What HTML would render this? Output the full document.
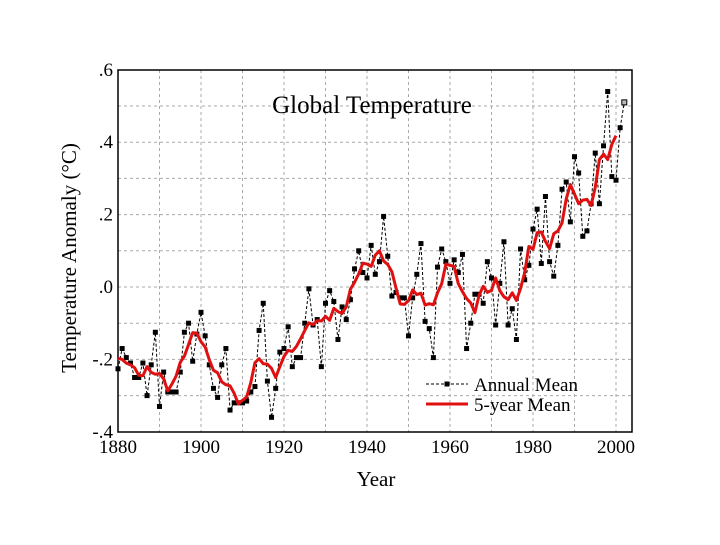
<!DOCTYPE html>
<html><head><meta charset="utf-8"><style>
body{margin:0;background:#fff;}
svg text{font-family:"Liberation Serif",serif;}
</style></head><body>
<svg id="chart" width="720" height="540" viewBox="0 0 720 540">
<rect x="0" y="0" width="720" height="540" fill="#fff"/>
<g id="grid"></g>
<rect x="118" y="70" width="514" height="362" fill="none" stroke="#000" stroke-width="1.5"/>
<text x="372" y="113" font-size="25" text-anchor="middle">Global Temperature</text>
<text transform="translate(76,258) rotate(-90)" font-size="21" text-anchor="middle">Temperature Anomaly (°C)</text>
<text x="376" y="486" font-size="21" text-anchor="middle">Year</text>
<g id="yticks"></g>
<g id="xticks"></g>
<g id="series"></g>
<g>
<line x1="426" y1="384" x2="468" y2="384" stroke="#000" stroke-width="1" stroke-dasharray="3,2"/>
<rect x="444.5" y="381.5" width="5" height="5" fill="#000"/>
<text x="474" y="391" font-size="19">Annual Mean</text>
<line x1="426" y1="404" x2="468" y2="404" stroke="#e01010" stroke-width="3"/>
<text x="474" y="411" font-size="19">5-year Mean</text>
</g>
</svg>
<script>
const years = [];
for (let y = 1880; y <= 2002; y++) years.push(y);
const annualMean = [
-.226,-.17,-.195,-.21,-.25,-.25,-.21,-.30,-.215,-.125,
-.33,-.235,-.29,-.29,-.29,-.235,-.125,-.10,-.205,-.13,
-.07,-.135,-.215,-.28,-.305,-.215,-.17,-.34,-.32,-.32,
-.32,-.315,-.29,-.275,-.12,-.045,-.26,-.36,-.28,-.18,
-.17,-.11,-.22,-.195,-.195,-.10,-.005,-.105,-.09,-.22,
-.045,-.01,-.04,-.145,-.055,-.09,-.035,.05,.10,.04,
.025,.115,.035,.07,.195,.085,-.025,-.015,-.03,-.03,
-.135,-.03,.035,.12,-.095,-.115,-.195,.055,.105,.07,
.01,.075,.04,.09,-.17,-.10,-.02,-.02,-.045,.07,
.025,-.105,.01,.125,-.105,-.06,-.145,.105,.02,.06,
.16,.215,.065,.25,.07,.03,.115,.27,.29,.18,
.36,.315,.14,.155,.23,.37,.23,.39,.54,.305,
.295,.44,.51];
const yTicks = [-.4,-.2,0,.2,.4,.6];
const yTickLabels = ["-.4","-.2",".0",".2",".4",".6"];
const xTicks = [1880,1900,1920,1940,1960,1980,2000];
const xTickLabels = ["1880","1900","1920","1940","1960","1980","2000"];

const NS="http://www.w3.org/2000/svg";
function X(yr){return 118+(yr-1880)*4.15;}
function Y(v){return 287-v*362;}
function mk(tag,attrs,parent){const e=document.createElementNS(NS,tag);for(const k in attrs)e.setAttribute(k,attrs[k]);parent.appendChild(e);return e;}

const grid=document.getElementById('grid');
for(let yr=1890;yr<=2000;yr+=10){
  const l=mk('line',{x1:X(yr),x2:X(yr),y1:70,y2:432,stroke:'#aaa','stroke-width':1,'stroke-dasharray':'3,3'},grid);
  
  
}
for(let v=-0.3;v<0.6;v+=0.1){
  const l=mk('line',{x1:118,x2:632,y1:Y(v),y2:Y(v),stroke:'#aaa','stroke-width':1,'stroke-dasharray':'3,3'},grid);
  
  
}
const yt=document.getElementById('yticks');
yTicks.forEach((v,i)=>{
  const t=mk('text',{x:113,y:Y(v)+6,'font-size':19,'text-anchor':'end'},yt);
  t.textContent=yTickLabels[i];
  
  
});
const xt=document.getElementById('xticks');
xTicks.forEach((yr,i)=>{
  const t=mk('text',{x:X(yr),y:453,'font-size':19,'text-anchor':'middle'},xt);
  t.textContent=xTickLabels[i];
  
  
});

const ser=document.getElementById('series');
const pts=years.map((yr,i)=>X(yr)+','+Y(annualMean[i])).join(' ');
const al=mk('polyline',{points:pts,fill:'none',stroke:'#000','stroke-width':1,'stroke-dasharray':'3,2'},ser);


years.forEach((yr,i)=>{
  const last=i===years.length-1;
  const r=mk('rect',{x:X(yr)-2.5,y:Y(annualMean[i])-2.5,width:5,height:5,fill:last?'#bbb':'#000',stroke:'#000','stroke-width':last?1:0},ser);
  
  
});
// 5-year running mean (centered), 1880-2000
const fivePts=[];
years.forEach((yr,i)=>{
  if(yr>2000)return;
  let s=0,n=0;
  for(let j=i-2;j<=i+2;j++){if(j>=0&&j<annualMean.length){s+=annualMean[j];n++;}}
  fivePts.push(X(yr)+','+Y(s/n));
});
const rl=mk('polyline',{points:fivePts.join(' '),fill:'none',stroke:'#e01010','stroke-width':3,'stroke-linejoin':'round'},ser);


</script>
</body></html>
